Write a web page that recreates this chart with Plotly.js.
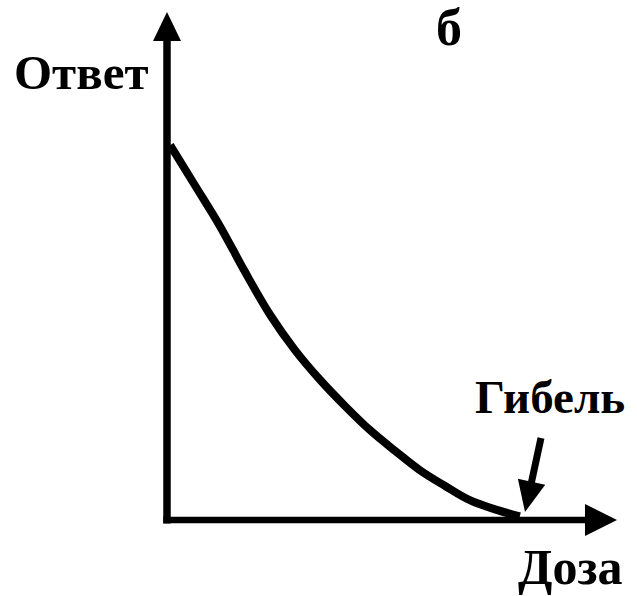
<!DOCTYPE html>
<html>
<head>
<meta charset="utf-8">
<script src="https://cdn.plot.ly/plotly-3.0.1.min.js"></script>
<style>html,body{margin:0;padding:0;background:#fff;}#chart{width:637px;height:596px;}</style>
</head>
<body>
<div id="chart"></div>
<script>
// Data (dose vs response, arbitrary units)
const dose     = [0.07, 0.62, 1.18, 1.73, 2.29, 2.84, 3.40, 3.96, 4.51, 5.07, 5.62, 6.18, 6.73, 7.29, 7.84];
const response = [7.38, 6.59, 5.78, 4.89, 4.04, 3.35, 2.76, 2.24, 1.77, 1.36, 0.98, 0.67, 0.39, 0.21, 0.07];
const yLabel = "Ответ";
const xLabel = "Доза";
const panelLabel = "б";
const deathLabel = "Гибель";

// Page geometry
const W = 637, H = 596;
const origin = [167, 520];          // pixel position of (0,0)
const pxPerX = 45, pxPerY = 50.8;   // pixels per unit
const xRange = [-origin[0] / pxPerX, (W - origin[0]) / pxPerX];
const yRange = [-(H - origin[1]) / pxPerY, origin[1] / pxPerY];
const X = px => (px - origin[0]) / pxPerX;
const Y = py => (origin[1] - py) / pxPerY;
const xMax = X(617), yMax = Y(12);

function tri(pts) {
  return 'M ' + pts.map(p => p[0] + ' ' + p[1]).join(' L ') + ' Z';
}
const headLen = 32 / pxPerX, headHalf = 16 / pxPerY;
const headLenY = 29 / pxPerY, headHalfX = 14 / pxPerX;

// death arrow
const tipPx = [525, 512], tailPx = [541, 438];
const ang = Math.atan2(tipPx[1] - tailPx[1], tipPx[0] - tailPx[0]);
const hl = 31, hw = 14;
const bx = tipPx[0] - hl * Math.cos(ang), by = tipPx[1] - hl * Math.sin(ang);
const nx = -Math.sin(ang), ny = Math.cos(ang);
const headPts = [
  [X(tipPx[0]), Y(tipPx[1])],
  [X(bx + hw * nx), Y(by + hw * ny)],
  [X(bx - hw * nx), Y(by - hw * ny)]
];

const shapes = [
  {type: 'line', x0: 0, y0: -3.5 / pxPerY, x1: 0, y1: yMax - headLenY + 0.05, line: {color: '#000', width: 7.5}},
  {type: 'path', path: tri([[0, yMax], [-headHalfX, yMax - headLenY], [headHalfX, yMax - headLenY]]), fillcolor: '#000', line: {width: 0}},
  {type: 'line', x0: -3.7 / pxPerX, y0: 0, x1: xMax - headLen + 0.05, y1: 0, line: {color: '#000', width: 6.5}},
  {type: 'path', path: tri([[xMax, 0], [xMax - headLen, headHalf], [xMax - headLen, -headHalf]]), fillcolor: '#000', line: {width: 0}},
  {type: 'line', x0: X(tailPx[0]), y0: Y(tailPx[1]), x1: X(bx + 2 * Math.cos(ang)), y1: Y(by + 2 * Math.sin(ang)), line: {color: '#000', width: 7}},
  {type: 'path', path: tri(headPts), fillcolor: '#000', line: {width: 0}}
];

function lab(text, px, py, size) {
  return {text: text, xref: 'paper', yref: 'paper', x: px / W, y: 1 - py / H,
          xanchor: 'center', yanchor: 'middle', showarrow: false,
          font: {family: 'Liberation Serif', size: size, color: '#000', weight: 700}};
}
const annotations = [
  lab(yLabel, 81, 73, 49),
  lab(panelLabel, 449, 27, 52),
  lab(deathLabel, 550, 397, 47),
  lab(xLabel, 570, 567, 50)
];

const trace = {
  x: dose, y: response, type: 'scatter', mode: 'lines',
  line: {color: '#000', width: 8, shape: 'spline', smoothing: 1},
  hoverinfo: 'skip'
};

function draw() {
  return Plotly.newPlot('chart', [trace], {
    width: W, height: H,
    margin: {l: 0, r: 0, t: 0, b: 0, pad: 0},
    paper_bgcolor: '#fff', plot_bgcolor: '#fff',
    showlegend: false,
    xaxis: {range: xRange, visible: false, fixedrange: true},
    yaxis: {range: yRange, visible: false, fixedrange: true},
    shapes: shapes,
    annotations: annotations
  }, {displayModeBar: false, staticPlot: true});
}

draw();
if (document.fonts && document.fonts.load) {
  document.fonts.load('bold 49px "Liberation Serif"', 'ОтветбГибельДоза')
    .then(() => draw())
    .catch(() => {});
}
</script>
</body>
</html>
